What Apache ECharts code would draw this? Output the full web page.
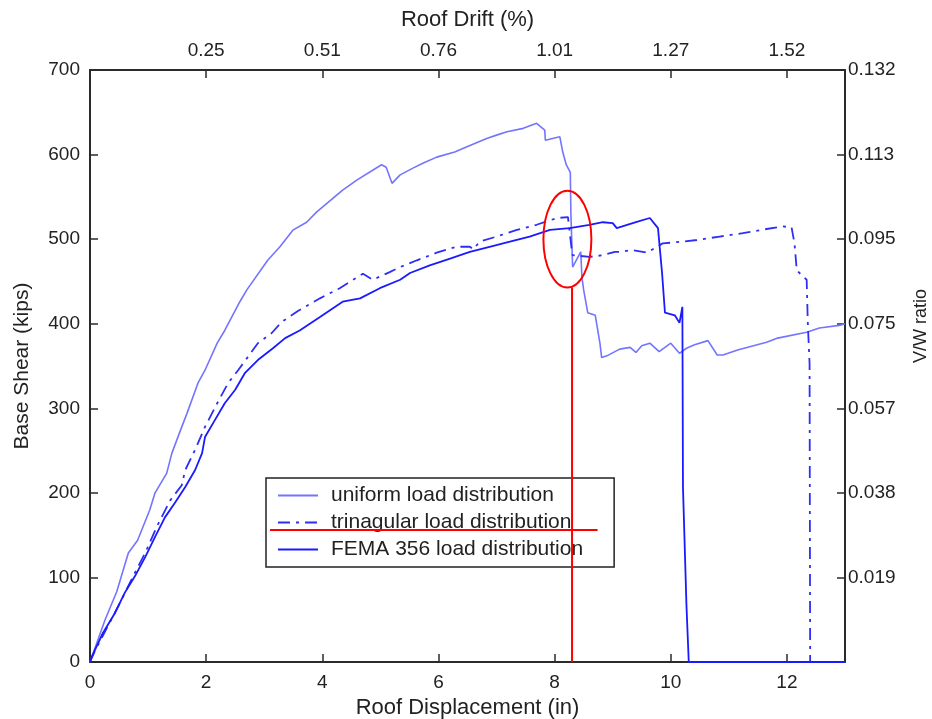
<!DOCTYPE html>
<html><head><meta charset="utf-8">
<script src="https://cdn.jsdelivr.net/npm/echarts@6/dist/echarts.min.js"></script>
<style>html,body{margin:0;padding:0;background:#fff}#c{width:932px;height:719px}</style>
</head><body><div id="c"></div>
<script>
// ---- data (roof displacement in inches, base shear in kips) ----
const uniformDisp = [0, 0.03, 0.26, 0.46, 0.66, 0.82, 1.03, 1.12, 1.32, 1.41, 1.58, 1.67, 1.86, 1.98, 2.19, 2.32, 2.58, 2.7, 3.06, 3.27, 3.5, 3.73, 3.9, 4.35, 4.6, 5.02, 5.1, 5.2, 5.34, 5.56, 5.74, 5.97, 6.28, 6.48, 6.83, 7.0, 7.18, 7.46, 7.69, 7.83, 7.84, 8.09, 8.14, 8.2, 8.27, 8.28, 8.31, 8.45, 8.47, 8.5, 8.57, 8.7, 8.78, 8.81, 8.9, 9.12, 9.3, 9.4, 9.5, 9.64, 9.8, 10.0, 10.15, 10.27, 10.41, 10.64, 10.8, 10.9, 11.15, 11.65, 11.84, 12.34, 12.56, 12.9, 13.0];
const uniformShear = [0, 2, 50, 83, 129, 144, 180, 200, 223, 247, 278, 294, 330, 345, 377, 392, 426, 440, 475, 491, 511, 520, 532, 558, 570, 588, 585, 566, 576, 584, 590, 597, 603, 609, 619, 623, 627, 631, 637, 629, 617, 621, 603, 588, 579, 531, 467, 485, 455, 440, 413, 410, 377, 360, 362, 370, 372, 366, 374, 377, 367, 377, 365, 371, 375, 380, 363, 363, 369, 378, 383, 390, 395, 398, 400];

const triangDisp = [0, 0.09, 0.48, 0.77, 0.95, 1.15, 1.38, 1.58, 1.64, 1.81, 1.98, 2.19, 2.38, 2.55, 2.7, 2.89, 3.13, 3.3, 3.58, 3.96, 4.3, 4.6, 4.7, 4.87, 5.16, 5.34, 5.63, 5.97, 6.31, 6.54, 6.6, 6.71, 7.0, 7.35, 7.69, 8.04, 8.23, 8.3, 8.31, 8.6, 8.83, 9.04, 9.12, 9.33, 9.59, 9.86, 10.2, 10.45, 10.84, 11.24, 11.65, 11.93, 12.08, 12.13, 12.17, 12.34, 12.36, 12.39, 12.4, 13.0];
const triangShear = [0, 14, 65, 105, 129, 160, 191, 209, 227, 251, 278, 306, 330, 345, 359, 377, 389, 402, 415, 430, 442, 455, 459, 452, 461, 467, 475, 484, 491, 491, 488, 497, 503, 511, 517, 525, 526, 484, 481, 479, 481, 485, 485, 487, 484, 495, 497, 499, 503, 507, 512, 515, 514, 495, 463, 452, 400, 353, 0, 0];

const femaDisp = [0, 0.03, 0.22, 0.43, 0.6, 0.77, 0.95, 1.12, 1.29, 1.46, 1.64, 1.81, 1.93, 1.98, 2.15, 2.32, 2.5, 2.67, 2.89, 3.15, 3.36, 3.61, 3.96, 4.35, 4.65, 4.99, 5.34, 5.51, 5.85, 6.2, 6.54, 6.88, 7.23, 7.57, 7.92, 8.26, 8.6, 8.83, 9.0, 9.07, 9.4, 9.64, 9.78, 9.85, 9.9, 10.07, 10.15, 10.2, 10.21, 10.27, 10.31, 13.0];
const femaShear = [0, 6, 34, 58, 82, 101, 124, 148, 171, 188, 207, 227, 247, 266, 286, 306, 322, 342, 357, 371, 383, 392, 408, 426, 430, 442, 452, 460, 469, 477, 485, 491, 497, 503, 511, 513, 517, 520, 519, 513, 520, 525, 513, 460, 413, 410, 401, 420, 207, 67, 0, 0];

const seriesNames = ['uniform load distribution', 'trinagular load distribution', 'FEMA 356 load distribution'];
const driftLabels = ['', '0.25', '0.51', '0.76', '1.01', '1.27', '1.52'];       // top axis, one per 2 in
const ratioLabels = ['', '0.019', '0.038', '0.057', '0.075', '0.095', '0.113', '0.132']; // right axis, one per 100 kips

// annotation (data space)
const circleCenter = [8.22, 500];
const circleRadius = [0.413, 57.3];
const markX = 8.3, markTop = 443;
const markY = 156, markLeft = 3.1, markRight = 8.74;

// ---- chart ----
const FONT = "'Liberation Sans',Arial,sans-serif";
const zip = (a, b) => a.map((v, i) => [v, b[i]]);
const chart = echarts.init(document.getElementById('c'));

const lineCol = '#2b2b2b';
const common = {
  type: 'value',
  axisLine: { show: true, onZero: false, lineStyle: { color: lineCol, width: 2 } },
  axisTick: { show: true, inside: true, length: 8, lineStyle: { color: lineCol, width: 1.5 } },
  splitLine: { show: false },
  axisLabel: { fontFamily: FONT, fontSize: 19, color: '#222' },
  nameTextStyle: { fontFamily: FONT, fontSize: 22, color: '#222' },
  nameLocation: 'middle'
};

chart.setOption({
  animation: false,
  backgroundColor: '#fff',
  grid: { left: 90, right: 87, top: 70, bottom: 57, containLabel: false, outerBoundsMode: 'none' },
  xAxis: [
    Object.assign({}, common, {
      position: 'bottom', min: 0, max: 13, interval: 2,
      name: 'Roof Displacement (in)', nameGap: 28,
      axisLabel: Object.assign({}, common.axisLabel, { margin: 11, formatter: v => (v > 12 ? '' : String(v)) })
    }),
    Object.assign({}, common, {
      position: 'top', min: 0, max: 13, interval: 2,
      name: 'Roof Drift (%)', nameGap: 39,
      axisLabel: Object.assign({}, common.axisLabel, { margin: 10, formatter: v => driftLabels[v / 2] || '' })
    })
  ],
  yAxis: [
    Object.assign({}, common, {
      position: 'left', min: 0, max: 700, interval: 100,
      name: 'Base Shear (kips)', nameGap: 57, nameRotate: 90,
      nameTextStyle: Object.assign({}, common.nameTextStyle, { fontSize: 21 }),
      axisLabel: Object.assign({}, common.axisLabel, { margin: 10 })
    }),
    Object.assign({}, common, {
      position: 'right', min: 0, max: 700, interval: 100,
      name: 'V/W ratio', nameGap: 67, nameRotate: 90,
      nameTextStyle: Object.assign({}, common.nameTextStyle, { fontSize: 18, padding: [0, 0, 0, 80] }),
      axisLabel: Object.assign({}, common.axisLabel, { margin: 3, formatter: v => ratioLabels[v / 100] || '' })
    })
  ],
  legend: {
    orient: 'vertical', left: 266, top: 478,
    data: seriesNames, selectedMode: false,
    itemWidth: 40, itemHeight: 14, itemGap: 6,
    padding: [7, 31, 7, 11],
    itemStyle: { opacity: 0 },
    borderColor: '#222', borderWidth: 1.5, backgroundColor: '#fff',
    textStyle: { fontFamily: FONT, fontSize: 21, lineHeight: 21, color: '#222', padding: [0, 0, 0, 8] }
  },
  series: [
    { type: 'line', name: seriesNames[0], data: zip(uniformDisp, uniformShear), symbol: 'none',
      lineStyle: { color: '#7474ff', width: 1.6 }, itemStyle: { color: '#7474ff' } },
    { type: 'line', name: seriesNames[1], data: zip(triangDisp, triangShear), symbol: 'none',
      lineStyle: { color: '#2e2ef5', width: 1.8, type: [12, 6, 3, 6] }, itemStyle: { color: '#2e2ef5' } },
    { type: 'line', name: seriesNames[2], data: zip(femaDisp, femaShear), symbol: 'none',
      lineStyle: { color: '#1a1aff', width: 1.8 }, itemStyle: { color: '#1a1aff' } }
  ]
});

// red annotations, positioned through the chart's own scales
const px = (x, y) => chart.convertToPixel({ gridIndex: 0 }, [x, y]);
const c0 = px(circleCenter[0], circleCenter[1]);
const c1 = px(circleCenter[0] + circleRadius[0], circleCenter[1] + circleRadius[1]);
const v0 = px(markX, 0), v1 = px(markX, markTop);
const h0 = px(markLeft, markY), h1 = px(markRight, markY);
chart.setOption({
  graphic: [
    { type: 'ellipse', z: 100, shape: { cx: c0[0], cy: c0[1], rx: Math.abs(c1[0] - c0[0]), ry: Math.abs(c1[1] - c0[1]) },
      style: { fill: 'none', stroke: '#ff0000', lineWidth: 2 } },
    { type: 'line', z: 100, shape: { x1: v0[0], y1: v0[1], x2: v1[0], y2: v1[1] }, style: { stroke: '#ff0000', lineWidth: 2 } },
    { type: 'line', z: 100, shape: { x1: h0[0], y1: h0[1], x2: h1[0], y2: h1[1] }, style: { stroke: '#ff0000', lineWidth: 2 } }
  ]
});
</script>
</body></html>
